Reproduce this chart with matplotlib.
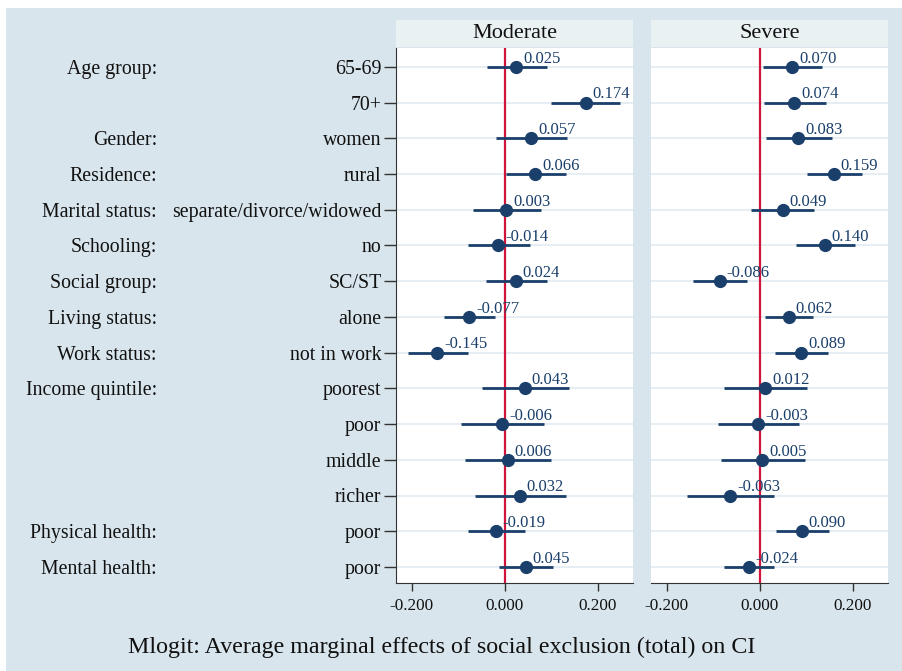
import matplotlib
matplotlib.use("Agg")
import matplotlib.pyplot as plt
from matplotlib.patches import Rectangle
from matplotlib.transforms import blended_transform_factory

plt.rcParams['font.family'] = ['Liberation Serif', 'DejaVu Serif']

categories = ["65-69", "70+", "women", "rural", "separate/divorce/widowed", "no",
              "SC/ST", "alone", "not in work", "poorest", "poor", "middle",
              "richer", "poor", "poor"]
groups = {0: "Age group:", 2: "Gender:", 3: "Residence:", 4: "Marital status:",
          5: "Schooling:", 6: "Social group:", 7: "Living status:",
          8: "Work status:", 9: "Income quintile:", 13: "Physical health:",
          14: "Mental health:"}

mod_est = [0.025, 0.174, 0.057, 0.066, 0.003, -0.014, 0.024, -0.077, -0.145,
           0.043, -0.006, 0.006, 0.032, -0.019, 0.045]
mod_lo = [-0.039, 0.100, -0.018, 0.002, -0.068, -0.079, -0.041, -0.131, -0.208,
          -0.050, -0.095, -0.086, -0.063, -0.079, -0.012]
mod_hi = [0.092, 0.247, 0.134, 0.131, 0.077, 0.054, 0.090, -0.022, -0.080,
          0.138, 0.085, 0.100, 0.131, 0.043, 0.104]

sev_est = [0.070, 0.074, 0.083, 0.159, 0.049, 0.140, -0.086, 0.062, 0.089,
           0.012, -0.003, 0.005, -0.063, 0.090, -0.024]
sev_lo = [0.007, 0.009, 0.014, 0.101, -0.018, 0.079, -0.144, 0.011, 0.032,
          -0.076, -0.090, -0.084, -0.156, 0.034, -0.076]
sev_hi = [0.135, 0.142, 0.155, 0.219, 0.117, 0.205, -0.027, 0.115, 0.147,
          0.102, 0.084, 0.097, 0.031, 0.149, 0.030]

xticks = [-0.2, 0.0, 0.2]
xticklabels = ["-0.200", "0.000", "0.200"]
panel_titles = ["Moderate", "Severe"]
title = "Mlogit: Average marginal effects of social exclusion (total) on CI"

W, H = 903, 671
BG = '#d8e5ec'
HEAD = '#eaf1f3'
NAVY = '#1a3f6a'
RED = '#d0143c'
GRID = '#e6eef3'
TXT = '#111111'

fig = plt.figure(figsize=(W / 100, H / 100), dpi=100)
fig.patch.set_facecolor('white')
fig.patches.append(Rectangle((6 / W, 0), 1, 1 - 8 / H, transform=fig.transFigure,
                             facecolor=BG, edgecolor='none', zorder=-10))

def fx(px):
    return px / W

def fy(py):
    return 1 - py / H

top, bot = 48, 583
panels = [(396, 633), (651, 888)]
data = [(mod_est, mod_lo, mod_hi), (sev_est, sev_lo, sev_hi)]
n = len(categories)
ys = list(range(n))
axes = []
for i, ((l, r), (est, lo, hi)) in enumerate(zip(panels, data)):
    ax = fig.add_axes([fx(l), fy(bot), fx(r - l), (bot - top) / H])
    axes.append(ax)
    ax.set_facecolor('white')
    ax.set_xlim(-0.234, 0.276)
    ax.set_ylim(n - 1 + 0.45, -0.53)
    for y in ys:
        ax.axhline(y, color=GRID, lw=1.4, zorder=0)
    ax.axvline(0, color=RED, lw=1.6, zorder=1)
    ax.hlines(ys, lo, hi, color=NAVY, lw=2.0, zorder=2)
    ax.plot(est, ys, 'o', color=NAVY, ms=8.5, zorder=3)
    for e, y in zip(est, ys):
        ax.annotate(f"{e:.3f}", (e, y), xytext=(5, 3), textcoords='offset points',
                    ha='left', va='baseline', fontsize=12, color=NAVY, zorder=4)
    ax.set_xticks(xticks)
    ax.set_xticklabels(xticklabels, fontsize=12.3, color=TXT)
    ax.tick_params(axis='x', length=6, width=1, color='#333333', pad=5)
    for s in ['top', 'right']:
        ax.spines[s].set_visible(False)
    ax.spines['bottom'].set_color('#333333')
    if i == 0:
        ax.set_yticks(ys)
        ax.set_yticklabels(categories, fontsize=14.3, color=TXT)
        ax.tick_params(axis='y', length=9, width=1, color='#333333', pad=1.5)
        ax.spines['left'].set_color('#333333')
    else:
        ax.set_yticks([])
        ax.spines['left'].set_visible(False)
    # header strip
    fig.patches.append(Rectangle((fx(l), fy(47)), fx(r - l), 27 / H,
                                 transform=fig.transFigure, facecolor=HEAD,
                                 edgecolor='none', zorder=-5))
    fig.text(fx((l + r) / 2), fy(33.5), panel_titles[i], ha='center', va='center',
             fontsize=16, color=TXT)

tr = blended_transform_factory(fig.transFigure, axes[0].transData)
for idx, g in groups.items():
    axes[0].text(fx(157), idx, g, transform=tr, ha='right', va='center_baseline',
                 fontsize=14.3, color=TXT, clip_on=False)

fig.text(fx(442), fy(647), title, ha='center', va='center', fontsize=17.3,
         color=TXT)

fig.savefig('out.png', dpi=100, facecolor=fig.get_facecolor())
